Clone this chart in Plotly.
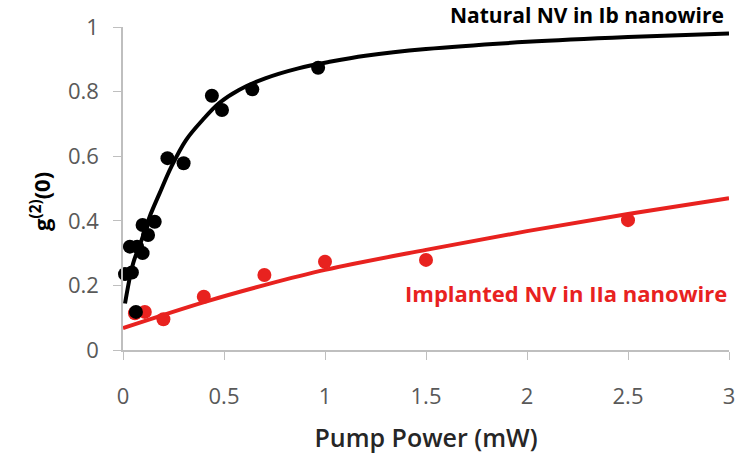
import plotly.graph_objects as go

# Measured data: natural NV in Ib nanowire (black)
black_x = [0.01, 0.044, 0.034, 0.07, 0.064, 0.097, 0.097, 0.124, 0.157, 0.22, 0.30, 0.44, 0.49, 0.64, 0.966]
black_y = [0.235, 0.24, 0.32, 0.32, 0.118, 0.30, 0.387, 0.356, 0.397, 0.594, 0.578, 0.787, 0.743, 0.807, 0.874]

# Fit curve (black)
black_fit_x = [0.01, 0.05, 0.092, 0.132, 0.181, 0.239, 0.312, 0.394, 0.475, 0.574, 0.704, 0.868, 1.03, 1.2, 1.5, 2.0, 2.5, 3.0]
black_fit_y = [0.144, 0.268, 0.34, 0.413, 0.485, 0.567, 0.65, 0.712, 0.764, 0.805, 0.841, 0.872, 0.893, 0.911, 0.932, 0.954, 0.969, 0.98]

# Measured data: implanted NV in IIa nanowire (red)
red_x = [0.059, 0.108, 0.20, 0.40, 0.70, 1.0, 1.5, 2.5]
red_y = [0.114, 0.118, 0.095, 0.165, 0.232, 0.273, 0.279, 0.402]

# Fit curve (red)
red_fit_x = [0.0, 0.41, 0.70, 1.0, 1.5, 2.0, 2.5, 3.0]
red_fit_y = [0.068, 0.15, 0.201, 0.248, 0.31, 0.368, 0.421, 0.47]

x_ticks = [0, 0.5, 1, 1.5, 2, 2.5, 3]
x_tick_text = ["0", "0.5", "1", "1.5", "2", "2.5", "3"]
y_ticks = [0, 0.2, 0.4, 0.6, 0.8, 1]
y_tick_text = ["0", "0.2", "0.4", "0.6", "0.8", "1"]

BLACK = "#000000"
RED = "#e8221f"
FONT = "Open Sans"

fig = go.Figure()
fig.add_trace(go.Scatter(x=red_fit_x, y=red_fit_y, mode="lines", line=dict(color=RED, width=4, shape="spline"),
                         showlegend=False, cliponaxis=False))
fig.add_trace(go.Scatter(x=red_x, y=red_y, mode="markers", marker=dict(color=RED, size=14),
                         showlegend=False, cliponaxis=False))
fig.add_trace(go.Scatter(x=black_fit_x, y=black_fit_y, mode="lines", line=dict(color=BLACK, width=4, shape="spline"),
                         showlegend=False, cliponaxis=False))
fig.add_trace(go.Scatter(x=black_x, y=black_y, mode="markers", marker=dict(color=BLACK, size=14),
                         showlegend=False, cliponaxis=False))

fig.update_layout(
    width=742, height=467,
    margin=dict(l=123, r=7, t=27, b=117),
    paper_bgcolor="white", plot_bgcolor="white",
    font=dict(family=FONT, color="#595959", size=22),
    xaxis=dict(range=[0, 3], tickvals=x_ticks, ticktext=x_tick_text, showgrid=False, zeroline=False,
               showline=True, linecolor="#bfbfbf", linewidth=1.5, ticks="outside", ticklen=8,
               tickcolor="#bfbfbf", tickfont=dict(size=22, color="#595959"), ticklabelstandoff=18,
               title=dict(text="Pump Power (mW)", font=dict(size=25, color="#262626", weight=600), standoff=20)),
    yaxis=dict(range=[0, 1], tickvals=y_ticks, ticktext=y_tick_text, showgrid=False, zeroline=False,
               showline=True, linecolor="#bfbfbf", linewidth=1.5, ticks="outside", ticklen=8,
               tickcolor="#bfbfbf", tickfont=dict(size=22, color="#595959"), ticklabelstandoff=10),
    annotations=[
        dict(text="<b>g<sup>(2)</sup>(0)</b>", xref="paper", yref="paper", x=-0.136, y=0.46,
             xanchor="center", yanchor="middle", textangle=-90, showarrow=False,
             font=dict(size=22, color="#000000")),
        dict(text="<b>Natural NV in Ib nanowire</b>", xref="paper", yref="paper", x=0.994, y=1.037,
             xanchor="right", yanchor="middle", showarrow=False, borderpad=0,
             font=dict(size=21, color="#000000")),
        dict(text="<b>Implanted NV in IIa nanowire</b>", xref="paper", yref="paper", x=1.0, y=0.175,
             xanchor="right", yanchor="middle", showarrow=False, font=dict(size=22, color=RED)),
    ],
)

fig.write_html("out.html")
